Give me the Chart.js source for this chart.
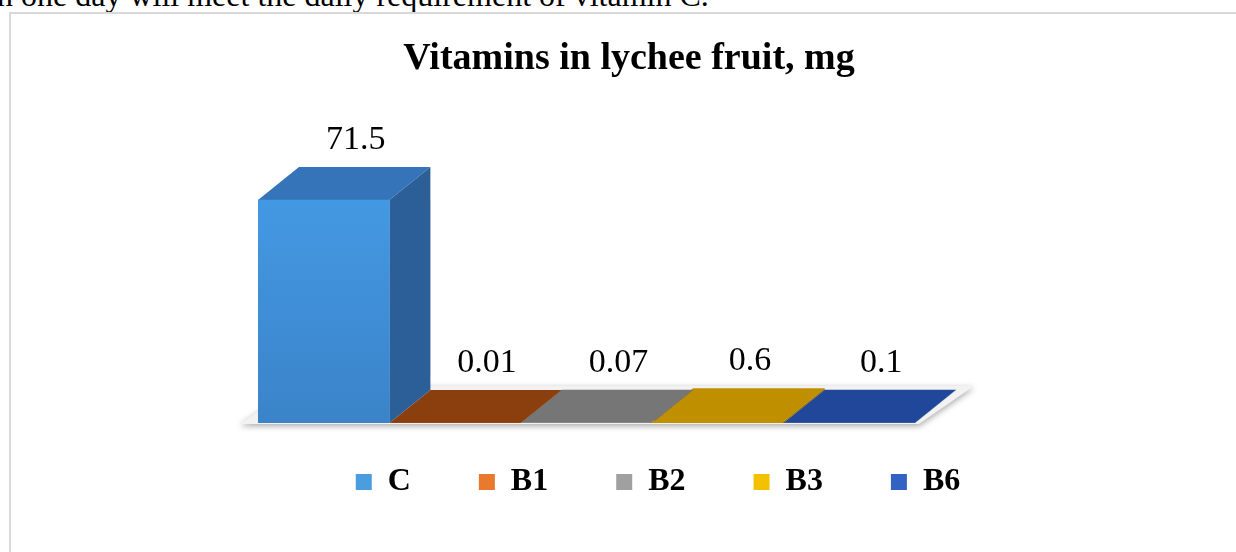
<!DOCTYPE html>
<html>
<head>
<meta charset="utf-8">
<script src="https://cdn.jsdelivr.net/npm/chart.js@4.4.1/dist/chart.umd.min.js"></script>
<style>
    html, body { margin: 0; padding: 0; background: #fff; overflow: hidden; }
    body { width: 1236px; height: 552px; position: relative; }
    #docText {
        position: absolute; left: -3px; top: -21px;
        font: 32px/32px 'Liberation Serif', 'Times New Roman', serif;
        color: #000; white-space: nowrap;
    }
    #chartBox {
        position: absolute; left: 9px; top: 12px; width: 1240px; height: 560px;
        border-left: 2px solid #d9d9d9; border-top: 2px solid #d9d9d9;
    }
    #chart { position: absolute; left: 0; top: 0; }
</style>
</head>
<body>
<div id="docText">n one day will meet the daily requirement of vitamin C.</div>
<div id="chartBox"></div>
<canvas id="chart" width="1236" height="552"></canvas>
<script>
// Data
const vitamins = ['C', 'B1', 'B2', 'B3', 'B6'];
const amountsMg = [71.5, 0.01, 0.07, 0.6, 0.1];

// Colours (front / top / side of each 3D bar, legend swatch)
const frontColors = ['#4297e2', '#c55a11', '#7b7b7b', '#bf9000', '#2f5597'];
const topColors = ['#3574b8', '#8b3e0e', '#767676', '#bf8f00', '#21479a'];
const sideColors = ['#2c5f98', '#6e300a', '#5e5e5e', '#9a7300', '#1a3a7c'];
const legendColors = ['#4a9dde', '#e8792d', '#a0a0a0', '#f2c200', '#3363c2'];

const serif = "'Liberation Serif', 'Times New Roman', serif";

// 3D look and placement
const depth = { x: 41, y: 33 };
const labelShift = 32;
const leftGutter = 238;
const rightGutter = 301;
const titleCentreX = 629;
const legendCentreX = 658;
const legendCentreY = 482;

function frontFill(context) {
    const i = context.dataIndex;
    const area = context.chart.chartArea;
    if (i !== 0 || !area) return frontColors[i];
    const g = context.chart.ctx.createLinearGradient(0, area.top, 0, area.bottom);
    g.addColorStop(0, '#459be6');
    g.addColorStop(1, '#3a83c9');
    return g;
}

function poly(ctx, pts, fill) {
    ctx.beginPath();
    ctx.moveTo(pts[0][0], pts[0][1]);
    for (let k = 1; k < pts.length; k++) ctx.lineTo(pts[k][0], pts[k][1]);
    ctx.closePath();
    ctx.fillStyle = fill;
    ctx.fill();
}

// Floor, top faces and side faces of the bars, value labels
const bars3d = {
    id: 'bars3d',
    beforeDatasetsDraw(chart) {
        const ctx = chart.ctx;
        const meta = chart.getDatasetMeta(0);
        const first = meta.data[0];
        const last = meta.data[meta.data.length - 1];
        const left = first.x - first.width / 2;
        const right = last.x + last.width / 2;
        const base = first.base;

        ctx.save();
        ctx.shadowColor = 'rgba(0, 0, 0, 0.35)';
        ctx.shadowBlur = 6;
        ctx.shadowOffsetY = 2;
        poly(ctx, [
            [left - 18, base + 1],
            [right + 4, base + 1],
            [right + 4 + depth.x + 14, base - depth.y - 4],
            [left - 18 + depth.x + 14, base - depth.y - 4]
        ], '#f2f2f2');
        ctx.restore();

        ctx.save();
        for (let i = meta.data.length - 1; i >= 0; i--) {
            const bar = meta.data[i];
            const l = bar.x - bar.width / 2;
            const r = bar.x + bar.width / 2;
            const top = bar.y;
            poly(ctx, [
                [l, top], [r, top],
                [r + depth.x, top - depth.y], [l + depth.x, top - depth.y]
            ], topColors[i]);
            poly(ctx, [
                [r, top], [r + depth.x, top - depth.y],
                [r + depth.x, base - depth.y], [r, base]
            ], sideColors[i]);
        }
        ctx.restore();
    },
    afterDatasetsDraw(chart) {
        const ctx = chart.ctx;
        const meta = chart.getDatasetMeta(0);
        ctx.save();
        ctx.font = '34px ' + serif;
        ctx.fillStyle = '#000';
        ctx.textAlign = 'center';
        ctx.textBaseline = 'alphabetic';
        meta.data.forEach((bar, i) => {
            ctx.fillText(String(amountsMg[i]), bar.x + labelShift, bar.y - depth.y - 18);
        });
        ctx.restore();
    }
};

// Move title and legend to where the original has them
const recentre = {
    id: 'recentre',
    afterLayout(chart) {
        const t = chart.titleBlock;
        const dxT = titleCentreX - (t.left + t.right) / 2;
        t.left += dxT;
        t.right += dxT;

        const lg = chart.legend;
        const labels = chart.options.plugins.legend.labels;
        const dxL = legendCentreX - (lg.left + lg.right) / 2;
        const dyL = legendCentreY - (lg.top + labels.padding + labels.font.size / 2);
        lg.left += dxL;
        lg.right += dxL;
        lg.top += dyL;
        lg.bottom += dyL;
    }
};

// Invisible axes that only hold the plot area in place
const hiddenAxis = (position, gutter) => ({
    position: position,
    min: 0,
    max: 80,
    grid: { display: false },
    border: { display: false },
    ticks: { display: false },
    afterFit: (scale) => { scale.width = gutter; }
});

new Chart(document.getElementById('chart'), {
    type: 'bar',
    data: {
        labels: vitamins,
        datasets: [{
            label: 'Vitamins, mg',
            data: amountsMg,
            backgroundColor: frontFill,
            borderWidth: 0,
            categoryPercentage: 1,
            barPercentage: 1,
            yAxisID: 'y'
        }]
    },
    options: {
        responsive: false,
        animation: false,
        events: [],
        layout: {
            padding: { left: 20, right: 20, top: 20, bottom: 19 }
        },
        scales: {
            x: { display: false },
            y: hiddenAxis('left', leftGutter),
            yRight: hiddenAxis('right', rightGutter)
        },
        plugins: {
            title: {
                display: true,
                text: 'Vitamins in lychee fruit, mg',
                color: '#000',
                font: { family: serif, size: 38, weight: 'bold' },
                padding: { top: 16, bottom: 92 }
            },
            legend: {
                position: 'bottom',
                labels: {
                    color: '#000',
                    font: { family: serif, size: 32, weight: 'bold' },
                    boxWidth: 16,
                    boxHeight: 16,
                    padding: 68,
                    generateLabels: () => vitamins.map((v, i) => ({
                        text: v,
                        fillStyle: legendColors[i],
                        strokeStyle: legendColors[i],
                        lineWidth: 0,
                        hidden: false,
                        datasetIndex: 0,
                        index: i
                    }))
                }
            },
            tooltip: { enabled: false }
        }
    },
    plugins: [bars3d, recentre]
});
</script>
</body>
</html>
